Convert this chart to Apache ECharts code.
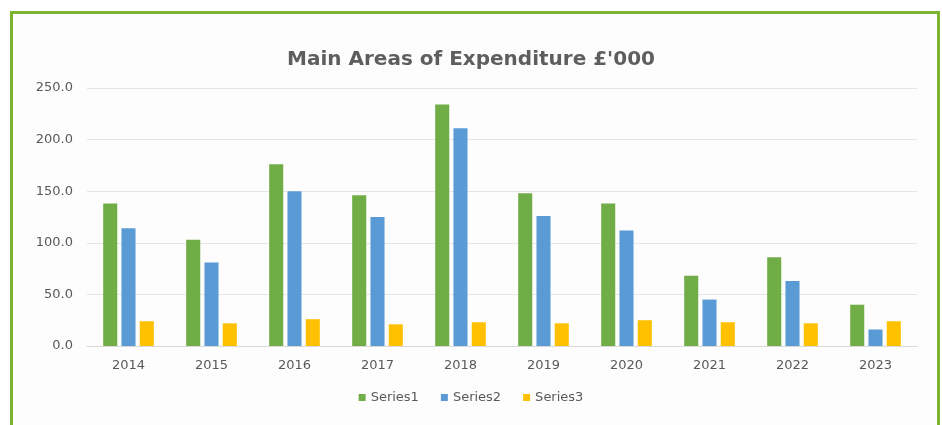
<!DOCTYPE html>
<html>
<head>
<meta charset="utf-8">
<script src="https://cdn.jsdelivr.net/npm/echarts@6/dist/echarts.min.js"></script>
<style>
  html, body { margin: 0; padding: 0; background: #fff; }
  #frame {
    position: absolute; left: 10px; top: 11px; width: 924px; height: 420px;
    border: 3px solid #7ab532; border-bottom: none; background: #fdfdfd;
  }
  #expenditureChart { position: absolute; left: 0; top: 0; width: 942px; height: 425px; }
</style>
</head>
<body>
<div id="frame"></div>
<div id="expenditureChart"></div>
<script>
const years = ['2014', '2015', '2016', '2017', '2018', '2019', '2020', '2021', '2022', '2023'];
const series1 = [138, 103, 176, 146, 234, 148, 138, 68, 86, 40];
const series2 = [114, 81, 150, 125, 211, 126, 112, 45, 63, 16];
const series3 = [24, 22, 26, 21, 23, 22, 25, 23, 22, 24];

let myChart = echarts.init(document.getElementById('expenditureChart'));
let option = {
  backgroundColor: 'transparent',
  title: {
    text: "Main Areas of Expenditure £'000",
    left: 'center',
    top: 45,
    textStyle: { fontFamily: 'DejaVu Sans', fontSize: 20, fontWeight: 'bold', color: '#5e5e5e' }
  },
  legend: {
    data: ['Series1', 'Series2', 'Series3'],
    left: 'center',
    top: 386,
    itemWidth: 7,
    itemHeight: 7,
    itemGap: 22,
    icon: 'rect',
    textStyle: { fontFamily: 'DejaVu Sans', fontSize: 13, color: '#595959' }
  },
  grid: { left: 87, right: 25, top: 88, bottom: 79 },
  xAxis: {
    type: 'category',
    data: years,
    axisLine: { lineStyle: { color: '#d9d9d9' } },
    axisTick: { show: false },
    axisLabel: { fontFamily: 'DejaVu Sans', fontSize: 13, color: '#595959', margin: 13 }
  },
  yAxis: {
    type: 'value',
    min: 0,
    max: 250,
    interval: 50,
    axisLine: { show: false },
    axisTick: { show: false },
    splitLine: { lineStyle: { color: '#e6e6e6' } },
    axisLabel: {
      fontFamily: 'DejaVu Sans', fontSize: 13, color: '#595959', margin: 14,
      formatter: v => v.toFixed(1)
    }
  },
  series: [
    { name: 'Series1', type: 'bar', data: series1, itemStyle: { color: '#70ad47' }, barGap: '30%', barCategoryGap: '39%' },
    { name: 'Series2', type: 'bar', data: series2, itemStyle: { color: '#5b9bd5' } },
    { name: 'Series3', type: 'bar', data: series3, itemStyle: { color: '#ffc000' } }
  ]
};
myChart.setOption(option);
</script>
</body>
</html>
